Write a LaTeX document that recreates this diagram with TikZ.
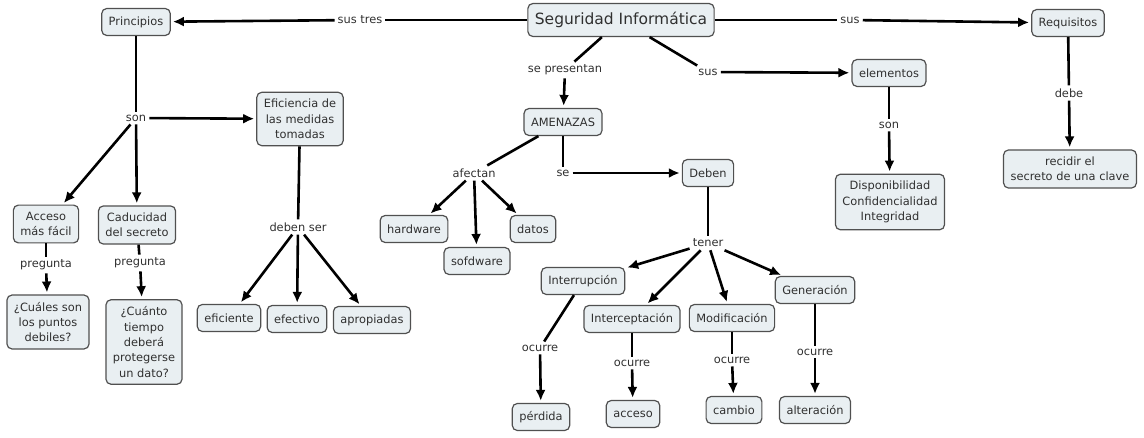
\documentclass[tikz,border=0pt]{standalone}
\usepackage{fontspec}
\setmainfont{DejaVu Sans}
\usepackage{tikz}
\usetikzlibrary{arrows.meta}
\definecolor{conceptfill}{HTML}{E9EFF2}
\definecolor{conceptline}{HTML}{505050}
\definecolor{concepttext}{HTML}{303030}
\tikzset{concept/.style={shape=rectangle, rounded corners=5pt, draw=conceptline, line width=1.2pt,
    fill=conceptfill, text=concepttext, align=center, inner xsep=7pt, inner ysep=7pt,
    minimum height=27pt, font=\fontsize{11.4}{15.3}\selectfont}}
\tikzset{link/.style={text=concepttext, inner sep=3pt, font=\fontsize{11.4}{15.3}\selectfont}}
\tikzset{lnk/.style={line width=2.6pt}}
\tikzset{lnkto/.style={line width=2.6pt, -{Latex[length=11pt,width=10pt]}, shorten >=2pt}}

\begin{document}
\begin{tikzpicture}[x=1pt, y=-1pt]
        \useasboundingbox (0,0) rectangle (1144,438);

            \node[concept, font=\fontsize{15.5}{18}\selectfont, minimum height=33pt] (SI) at (621,20) {Seguridad Informática};
            \node[concept] (P) at (136,22) {Principios};
            \node[concept] (R) at (1068,23) {Requisitos};
            \node[concept] (AM) at (563,122) {AMENAZAS};
            \node[concept] (EL) at (889,73) {elementos};
            \node[concept] (DCI) at (890,202) {Disponibilidad\\Confidencialidad\\Integridad};
            \node[concept] (RS) at (1070,169) {recidir el\\secreto de una clave};
            \node[concept] (EF) at (300,119) {Eficiencia de\\las medidas\\tomadas};
            \node[concept] (AC) at (46,224) {Acceso\\más fácil};
            \node[concept] (CA) at (137,225) {Caducidad\\del secreto};
            \node[concept] (Q1) at (48,322) {¿Cuáles son\\los puntos\\debiles?};
            \node[concept] (Q2) at (144,342) {¿Cuánto\\tiempo\\deberá\\protegerse\\un dato?};
            \node[concept] (E1) at (229,318) {eficiente};
            \node[concept] (E2) at (297,319) {efectivo};
            \node[concept] (E3) at (372,320) {apropiadas};
            \node[concept] (HW) at (414,229) {hardware};
            \node[concept] (SW) at (477,261) {sofdware};
            \node[concept] (DA) at (533,229) {datos};
            \node[concept] (DE) at (708,173) {Deben};
            \node[concept] (T1) at (583,281) {Interrupción};
            \node[concept] (T2) at (632,319) {Interceptación};
            \node[concept] (T3) at (732,318) {Modificación};
            \node[concept] (T4) at (815,290) {Generación};
            \node[concept] (C1) at (541,417) {pérdida};
            \node[concept] (C2) at (633,414) {acceso};
            \node[concept] (C3) at (734,410) {cambio};
            \node[concept] (C4) at (815,410) {alteración};

            \node[link] (L1) at (360,20) {sus tres};
            \node[link] (L2) at (850,20) {sus};
            \node[link] (L3) at (565,70) {se presentan};
            \node[link] (L4) at (708,72) {sus};
            \node[link] (L5) at (889,125) {son};
            \node[link] (L6) at (1069,93) {debe};
            \node[link] (L7) at (136,118) {son};
            \node[link] (L8) at (46,265) {pregunta};
            \node[link] (L9) at (140,263) {pregunta};
            \node[link] (L10) at (298,227) {deben ser};
            \node[link] (L11) at (474,173) {afectan};
            \node[link] (L12) at (563,173) {se};
            \node[link] (L13) at (708,243) {tener};
            \node[link] (L14) at (540,348) {ocurre};
            \node[link] (L15) at (632,363) {ocurre};
            \node[link] (L16) at (732,360) {ocurre};
            \node[link] (L17) at (815,352) {ocurre};

            \draw[lnk] (SI) -- (L1);
            \draw[lnkto] (L1) -- (P);
            \draw[lnk] (SI) -- (L2);
            \draw[lnkto] (L2) -- (R);
            \draw[lnk] (SI) -- (L3);
            \draw[lnkto] (L3) -- (AM);
            \draw[lnk] (SI) -- (L4);
            \draw[lnkto] (L4) -- (EL);
            \draw[lnk] (EL) -- (L5);
            \draw[lnkto] (L5) -- (DCI);
            \draw[lnk] (R) -- (L6);
            \draw[lnkto] (L6) -- (RS);
            \draw[lnk] (P) -- (L7);
            \draw[lnkto] (L7) -- (EF);
            \draw[lnkto] (L7) -- (AC);
            \draw[lnkto] (L7) -- (CA);
            \draw[lnk] (AC) -- (L8);
            \draw[lnkto] (L8) -- (Q1);
            \draw[lnk] (CA) -- (L9);
            \draw[lnkto] (L9) -- (Q2);
            \draw[lnk] (EF) -- (L10);
            \draw[lnkto] (L10) -- (E1);
            \draw[lnkto] (L10) -- (E2);
            \draw[lnkto] (L10) -- (E3);
            \draw[lnk] (AM) -- (L11);
            \draw[lnkto] (L11) -- (HW);
            \draw[lnkto] (L11) -- (SW);
            \draw[lnkto] (L11) -- (DA);
            \draw[lnk] (AM) -- (L12);
            \draw[lnkto] (L12) -- (DE);
            \draw[lnk] (DE) -- (L13);
            \draw[lnkto] (L13) -- (T1);
            \draw[lnkto] (L13) -- (T2);
            \draw[lnkto] (L13) -- (T3);
            \draw[lnkto] (L13) -- (T4);
            \draw[lnk] (T1) -- (L14);
            \draw[lnkto] (L14) -- (C1);
            \draw[lnk] (T2) -- (L15);
            \draw[lnkto] (L15) -- (C2);
            \draw[lnk] (T3) -- (L16);
            \draw[lnkto] (L16) -- (C3);
            \draw[lnk] (T4) -- (L17);
            \draw[lnkto] (L17) -- (C4);

        \end{tikzpicture}
\end{document}
